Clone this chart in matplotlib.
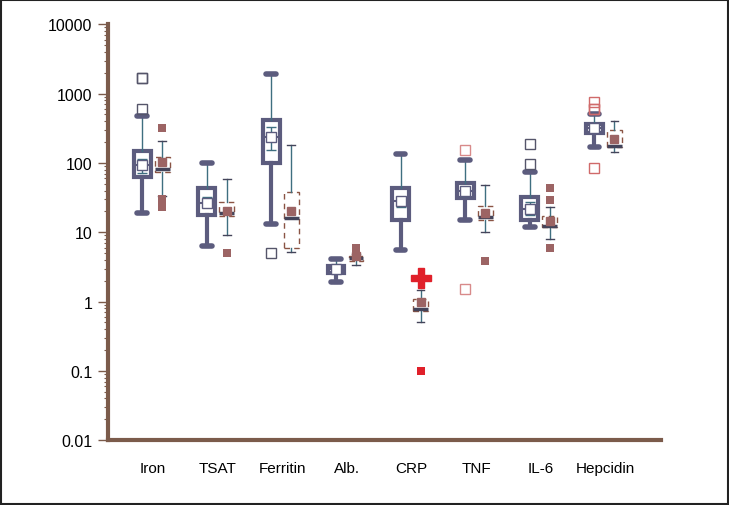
import numpy as np
import matplotlib.pyplot as plt

plt.rcParams["font.family"] = ["Liberation Sans", "DejaVu Sans"]

categories = ["Iron", "TSAT", "Ferritin", "Alb.", "CRP", "TNF", "IL-6", "Hepcidin"]

# groupe 1 : boîte pleine (trait épais)
g1_whislo = [19, 6.3, 13, 1.9, 5.5, 15, 11.8, 168]
g1_q1 = [62, 18, 99, 2.6, 15, 31, 15, 267]
g1_med = [92, 26, 234, 3.0, 28, 39, 22, 316]
g1_q3 = [147, 44, 412, 3.3, 44, 52, 32, 360]
g1_whishi = [471, 100, 1900, 4.1, 133, 109, 73, 500]
g1_mean = [92, 26, 234, 3.0, 28, 39, 22, 316]
g1_ci_lo = [71, 23, 152, 2.8, 23, 33, 18, 280]
g1_ci_hi = [113, 32, 327, 3.3, 32, 45, 27, 360]
g1_fliers = [[1700, 1700, 600], [], [5.1], [], [], [152, 1.5], [185, 95], [750, 600, 600, 84]]
g1_flier_colors = ["#55556a", "#55556a", "#55556a", "#55556a", "#55556a",
                   "#d88a8a", "#55556a", "#d06a6a"]

# groupe 2 : boîte en tirets
g2_whislo = [33, 9, 5.2, 3.4, 0.5, 10, 7.9, 142]
g2_q1 = [73, 17, 6, 3.8, 0.72, 15, 12, 170]
g2_med = [81, 19, 16, 4.3, 0.78, 16.5, 12.5, 178]
g2_q3 = [120, 27, 38, 4.5, 1.1, 24, 17, 295]
g2_whishi = [205, 58, 180, 4.9, 1.45, 47.5, 23, 400]
g2_mean = [102, 20, 20, 4.6, 0.98, 19, 14.5, 220]
g2_fliers = [[316, 30, 23], [5.1], [], [6.0], [0.1], [3.8], [44, 29, 5.9], []]
g2_flier_colors = ["#9c6464"] * 4 + ["#e0202a"] + ["#9c6464"] * 3

crp_extra = 2.2  # croix rouge (CRP, groupe 2)

slate = "#5c5c7e"
teal = "#3f6f80"
brown = "#8a5444"
mauve = "#9c6464"
axis_col = "#7b5b4b"

pos = np.arange(1, len(categories) + 1)
off1, off2 = -0.17, 0.14


def stats(lo, q1, med, q3, hi, mean, fl):
    return [dict(whislo=a, q1=b, med=c, q3=d, whishi=e, mean=f, fliers=g)
            for a, b, c, d, e, f, g in zip(lo, q1, med, q3, hi, mean, fl)]


fig = plt.figure(figsize=(7.29, 5.06), dpi=100)
ax = fig.add_axes([0.148, 0.128, 0.7586, 0.822])
ax.set_yscale("log")

# --- groupe 1 ---
ax.errorbar(pos + off1, g1_mean,
            yerr=[np.array(g1_mean) - np.array(g1_ci_lo), np.array(g1_ci_hi) - np.array(g1_mean)],
            fmt="none", ecolor=teal, elinewidth=1, capsize=3.5, zorder=3)
b1 = ax.bxp(stats(g1_whislo, g1_q1, g1_med, g1_q3, g1_whishi, g1_mean, g1_fliers),
            positions=pos + off1, widths=0.26, patch_artist=True, showmeans=True,
            capwidths=0.15, manage_ticks=False,
            boxprops=dict(facecolor="white", edgecolor=slate, linewidth=3),
            whiskerprops=dict(color=teal, linewidth=1),
            capprops=dict(color=slate, linewidth=4, solid_capstyle="round"),
            medianprops=dict(color=slate, linewidth=1.5),
            meanprops=dict(marker="s", markerfacecolor="white", markeredgecolor=slate,
                           markersize=6.5, markeredgewidth=1, zorder=4),
            flierprops=dict(marker="s", markerfacecolor="none", markersize=6.5,
                            markeredgewidth=1))
for i, c in enumerate(g1_flier_colors):
    b1["whiskers"][2 * i].set_linewidth(3)
    b1["whiskers"][2 * i].set_color(slate)
    b1["fliers"][i].set_markeredgecolor(c)

# --- groupe 2 ---
b2 = ax.bxp(stats(g2_whislo, g2_q1, g2_med, g2_q3, g2_whishi, g2_mean, g2_fliers),
            positions=pos + off2, widths=0.23, patch_artist=True, showmeans=True,
            capwidths=0.12, manage_ticks=False,
            boxprops=dict(facecolor="none", edgecolor=brown, linewidth=1, linestyle=(0, (4, 3))),
            whiskerprops=dict(color=teal, linewidth=1),
            capprops=dict(color="#44445a", linewidth=1),
            medianprops=dict(color="#44445a", linewidth=2.5),
            meanprops=dict(marker="s", markerfacecolor=mauve, markeredgecolor=mauve,
                           markersize=6, zorder=4),
            flierprops=dict(marker="s", markersize=6, markeredgewidth=0))
for i, c in enumerate(g2_flier_colors):
    b2["fliers"][i].set_markerfacecolor(c)

ax.plot([pos[4] + off2], [crp_extra], marker="P", color="#e0202a", markersize=14,
        linestyle="none", zorder=5)

# --- axes ---
ax.set_xlim(0.30, 8.86)
ax.set_ylim(0.01, 10000)
ax.set_xticks(pos)
ax.set_xticklabels(categories, fontsize=11)
ax.tick_params(axis="x", length=0, pad=15)
ax.set_yticks([0.01, 0.1, 1, 10, 100, 1000, 10000])
ax.set_yticklabels(["0.01", "0.1", "1", "10", "100", "1000", "10000"], fontsize=11.5)
ax.tick_params(axis="y", which="major", length=7, width=1, color=axis_col, pad=4)
ax.tick_params(axis="y", which="minor", length=3, width=0.8, color=axis_col)
for s in ("top", "right"):
    ax.spines[s].set_visible(False)
for s in ("left", "bottom"):
    ax.spines[s].set_color(axis_col)
    ax.spines[s].set_linewidth(3)

fig.patches.append(plt.Rectangle((0.001, 0.001), 0.997, 0.997, transform=fig.transFigure,
                                 fill=False, edgecolor="#222222", linewidth=1.5))

fig.savefig("out.png", dpi=100)
